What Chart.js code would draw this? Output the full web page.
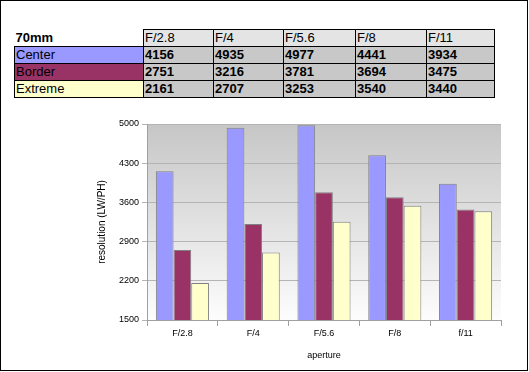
<!DOCTYPE html>
<html lang="en">
<head>
    <meta charset="UTF-8">
    <title>70mm resolution</title>
    <script src="https://cdn.jsdelivr.net/npm/chart.js"></script>
    <style>
        body {
            margin: 0;
            background: #fff;
            font-family: 'Liberation Sans', Arial, sans-serif;
        }

        #frame {
            position: absolute;
            left: 0;
            top: 0;
            width: 528px;
            height: 371px;
            box-sizing: border-box;
            border: 1px solid #000;
        }

        /* data table above the chart */
        #data-table {
            position: absolute;
            left: 14px;
            top: 29px;
            border-collapse: collapse;
            font-size: 13px;
            table-layout: fixed;
        }
        #data-table td {
            height: 16px;
            padding: 0 0 0 1px;
            border: 1px solid #000;
            line-height: 16px;
            white-space: nowrap;
        }
        #data-table tr.head td { background: #e4e4e4; }
        #data-table tr.head td.corner {
            background: #fff;
            border-top: none;
            border-left: none;
            font-weight: bold;
        }
        #data-table td.val {
            background: #c8c8c8;
            font-weight: bold;
        }

        #chart-box {
            position: absolute;
            left: 90px;
            top: 114px;
            width: 430px;
            height: 252px;
        }
    </style>
</head>
<body>
    <div id="frame"></div>
    <table id="data-table"></table>
    <div id="chart-box"><canvas id="chart"></canvas></div>

    <script>
        const tableTitle = '70mm';
        const tableApertures = ['F/2.8', 'F/4', 'F/5.6', 'F/8', 'F/11'];
        const chartApertures = ['F/2.8', 'F/4', 'F/5.6', 'F/8', 'f/11'];
        const seriesNames = ['Center', 'Border', 'Extreme'];
        const seriesColors = ['#9999ff', '#993366', '#ffffcc'];
        const center = [4156, 4935, 4977, 4441, 3934];
        const border = [2751, 3216, 3781, 3694, 3475];
        const extreme = [2161, 2707, 3253, 3540, 3440];
        const yTicks = [1500, 2200, 2900, 3600, 4300, 5000];

        const seriesValues = [center, border, extreme];

        // build the table
        const table = document.getElementById('data-table');
        const colWidths = [129, 70, 70, 72, 71, 68];
        let html = '<colgroup>' + colWidths.map(w => `<col style="width:${w}px">`).join('') + '</colgroup>';
        html += `<tr class="head"><td class="corner">${tableTitle}</td>` +
            tableApertures.map(a => `<td>${a}</td>`).join('') + '</tr>';
        seriesNames.forEach((name, i) => {
            html += `<tr><td style="background:${seriesColors[i]}">${name}</td>` +
                seriesValues[i].map(v => `<td class="val">${v}</td>`).join('') + '</tr>';
        });
        table.innerHTML = html;

        // grey-to-white plot background
        const plotBackground = {
            id: 'plotBackground',
            beforeDraw(chart) {
                const { ctx, chartArea: a } = chart;
                const grad = ctx.createLinearGradient(0, a.top, 0, a.bottom);
                grad.addColorStop(0, '#c6c6c6');
                grad.addColorStop(1, '#fdfdfd');
                ctx.save();
                ctx.fillStyle = grad;
                ctx.fillRect(a.left, a.top, a.right - a.left, a.bottom - a.top);
                ctx.restore();
            }
        };

        const ctx = document.getElementById('chart').getContext('2d');
        new Chart(ctx, {
            type: 'bar',
            data: {
                labels: chartApertures,
                datasets: seriesNames.map((name, i) => ({
                    label: name,
                    data: seriesValues[i],
                    backgroundColor: seriesColors[i],
                    borderColor: '#808080',
                    borderWidth: 1,
                    categoryPercentage: 0.75,
                    barPercentage: 1,
                })),
            },
            options: {
                responsive: true,
                maintainAspectRatio: false,
                animation: false,
                layout: { padding: { top: 10, right: 19, left: 0, bottom: 0 } },
                plugins: {
                    legend: { display: false },
                    tooltip: { enabled: false },
                },
                scales: {
                    x: {
                        afterFit: s => { s.height = 46; },
                        grid: {
                            drawOnChartArea: false,
                            drawTicks: true,
                            offset: true,
                            tickLength: 6,
                            color: '#a0a0a0',
                        },
                        border: { color: '#a0a0a0' },
                        ticks: {
                            color: '#000',
                            font: { family: 'Liberation Sans', size: 9 },
                            padding: 2,
                        },
                        title: {
                            display: true,
                            text: 'aperture',
                            color: '#000',
                            font: { family: 'Liberation Sans', size: 9 },
                            padding: { top: 0, bottom: 5 },
                        },
                    },
                    y: {
                        min: 1500,
                        max: 5000,
                        afterFit: s => { s.width = 57; },
                        afterBuildTicks: s => { s.ticks = yTicks.map(v => ({ value: v })); },
                        grid: {
                            color: '#b4b4b4',
                            tickLength: 5,
                        },
                        border: { color: '#a0a0a0' },
                        ticks: {
                            color: '#000',
                            font: { family: 'Liberation Sans', size: 9 },
                            padding: 3,
                            callback: v => String(v),
                        },
                        title: {
                            display: true,
                            text: 'resolution (LW/PH)',
                            color: '#000',
                            font: { family: 'Liberation Sans', size: 10 },
                            padding: { top: 6, bottom: 4 },
                        },
                    },
                },
            },
            plugins: [plotBackground],
        });
    </script>
</body>
</html>
